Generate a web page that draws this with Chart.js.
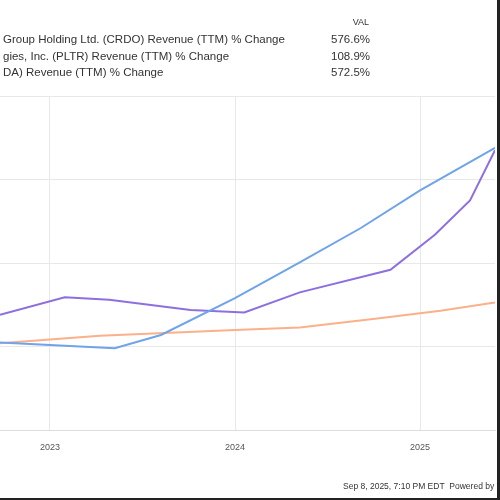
<!DOCTYPE html><html><head><style>html,body{margin:0;background:#fff}</style>
<script src="https://cdn.jsdelivr.net/npm/chart.js@4"></script></head><body><canvas id="c" width="500" height="500" style="width:500px;height:500px"></canvas><script>
const blueX=[2022.73,2023,2023.35,2023.6,2024,2024.35,2024.68,2025,2025.405];
const blueY=[1.05,1.02,0.98,1.14,1.58,2.01,2.42,2.87,3.38];
const purpleX=[2022.73,2023.08,2023.32,2023.76,2024.05,2024.35,2024.84,2025.08,2025.27,2025.405];
const purpleY=[1.38,1.59,1.56,1.44,1.41,1.65,1.92,2.34,2.75,3.35];
const orangeX=[2022.73,2023.27,2024,2024.35,2024.78,2025.11,2025.405];
const orangeY=[1.04,1.13,1.20,1.23,1.34,1.43,1.53];
const legendNames=["Group Holding Ltd. (CRDO) Revenue (TTM) % Change","gies, Inc. (PLTR) Revenue (TTM) % Change","DA) Revenue (TTM) % Change"];
const legendVals=["576.6%","108.9%","572.5%"];
const yearTicks=[2023,2024,2025];
const pts=(xs,ys)=>xs.map((x,i)=>({x,y:ys[i]}));
const deco={id:'deco',afterDraw(ch){const c=ch.ctx;c.save();c.fillStyle='#333';c.textBaseline='middle';
c.font='9px "Liberation Sans"';c.textAlign='right';c.fillText('VAL',369,23);c.font='11.5px "Liberation Sans"';
legendNames.forEach((n,i)=>{c.textAlign='left';c.fillText(n,3,40+i*16.5);c.textAlign='right';c.fillText(legendVals[i],370,40+i*16.5);});
c.textAlign='left';c.font='8.5px "Liberation Sans"';c.fillText('Sep 8, 2025, 7:10 PM EDT  Powered by YCharts',343,487);
c.fillStyle='#222';c.fillRect(497,0,3,500);c.fillRect(0,498,500,2);c.restore();}};
new Chart(document.getElementById('c'),{type:'line',data:{datasets:[
{data:pts(blueX,blueY),borderColor:'#6fa3ea',borderWidth:2},
{data:pts(purpleX,purpleY),borderColor:'#8e6fe0',borderWidth:2},
{data:pts(orangeX,orangeY),borderColor:'#fbb08a',borderWidth:2}]},
options:{responsive:false,animation:false,devicePixelRatio:1,layout:{padding:{top:96,left:0,right:5,bottom:35}},
elements:{point:{radius:0},line:{tension:0}},plugins:{legend:{display:false},tooltip:{enabled:false}},
scales:{x:{type:'linear',min:2022.73,max:2025.405,afterBuildTicks:s=>{s.ticks=yearTicks.map(v=>({value:v}))},
ticks:{color:'#555',font:{size:9,family:'Liberation Sans'},callback:v=>String(v),maxRotation:0,padding:12},
grid:{color:'#e8e8e8',drawTicks:false},border:{color:'#ddd'}},
y:{min:0,max:4,display:true,ticks:{display:false,stepSize:1},grid:{color:'#e8e8e8',drawTicks:false},border:{display:false}}}},
plugins:[deco]});
</script></body></html>
